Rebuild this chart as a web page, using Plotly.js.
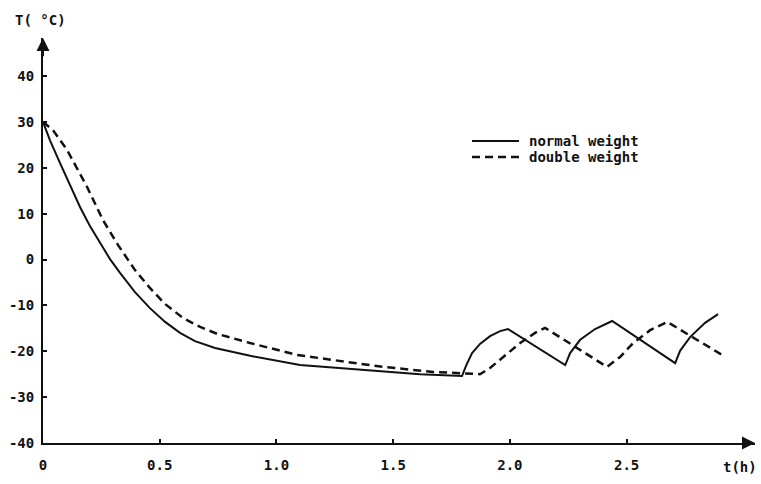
<!DOCTYPE html>
<html><head><meta charset="utf-8">
<script src="https://cdn.plot.ly/plotly-3.0.1.min.js"></script>
<style>html,body{margin:0;padding:0;background:#fff}#chart{width:761px;height:484px}</style>
</head><body><div id="chart"></div>
<script>
// time in hours, temperature in °C
const normalTime = [0, 0.030, 0.073, 0.116, 0.159, 0.201, 0.244, 0.287, 0.330, 0.394, 0.458, 0.523, 0.587, 0.651, 0.737, 0.887, 1.101, 1.388, 1.615, 1.795,
  1.812, 1.838, 1.872, 1.915, 1.958, 1.992, 2.237, 2.258, 2.301, 2.365, 2.438, 2.708, 2.729, 2.772, 2.836, 2.892];
const normalTemp = [30, 26.0, 21.0, 16.0, 11.4, 7.3, 3.6, 0.1, -2.9, -7.1, -10.6, -13.6, -16.0, -17.8, -19.3, -21.0, -23.0, -24.1, -25.0, -25.4,
  -23.2, -20.4, -18.4, -16.7, -15.6, -15.15, -23.0, -20.4, -17.5, -15.15, -13.4, -22.6, -19.9, -16.9, -13.8, -11.9];
const doubleTime = [0, 0.043, 0.103, 0.189, 0.257, 0.321, 0.394, 0.458, 0.523, 0.600, 0.673, 0.746, 0.887, 1.088, 1.242, 1.457, 1.671, 1.872,
  1.915, 1.971, 2.044, 2.108, 2.151, 2.416, 2.472, 2.528, 2.601, 2.674, 2.909];
const doubleTemp = [30, 28.2, 23.9, 15.8, 8.6, 3.2, -2.3, -6.2, -9.7, -12.75, -14.7, -16.2, -18.2, -20.8, -21.9, -23.4, -24.5, -25.0,
  -23.65, -21.25, -18.2, -16.0, -14.9, -23.4, -21.25, -18.2, -15.4, -13.6, -20.8];
const seriesNames = ['normal weight', 'double weight'];
const xTickVals = [0, 0.5, 1.0, 1.5, 2.0, 2.5, 3.0];
const xTickText = ['0', '0.5', '1.0', '1.5', '2.0', '2.5', ''];
const yTickVals = [-40, -30, -20, -10, 0, 10, 20, 30, 40];
const yTickText = ['-40', '-30', '-20', '-10', '0', '10', '20', '30', '40'];

const FONT = {family: 'DejaVu Sans Mono', size: 14, color: '#111', weight: 'bold'};

const traces = [
  {x: normalTime, y: normalTemp, name: seriesNames[0], mode: 'lines', line: {color: '#111', width: 2}},
  {x: doubleTime, y: doubleTemp, name: seriesNames[1], mode: 'lines', line: {color: '#111', width: 2.5, dash: '8px,5px'}}
];

const W = 712, H = 405, L = 43, T = 38;
const px = v => (v - L) / W;
const py = v => (T + H - v) / H;

const layout = {
  width: 761, height: 484,
  margin: {l: L, r: 761 - L - W, t: T, b: 484 - T - H},
  paper_bgcolor: '#fff', plot_bgcolor: '#fff',
  showlegend: false,
  font: FONT,
  xaxis: {range: [0, 3.05], showline: true, linecolor: '#111', linewidth: 2, showgrid: false, zeroline: false,
    ticks: 'inside', ticklen: 4, tickwidth: 2, tickcolor: '#111', tickvals: xTickVals, ticktext: xTickText,
    tickfont: FONT, ticklabelstandoff: 8},
  yaxis: {range: [-40, 48.3], showline: true, linecolor: '#111', linewidth: 2, showgrid: false, zeroline: false,
    ticks: 'inside', ticklen: 4, tickwidth: 2, tickcolor: '#111', tickvals: yTickVals, ticktext: yTickText,
    tickfont: FONT, ticklabelstandoff: 4},
  shapes: [
    {type: 'line', xref: 'paper', yref: 'paper', x0: px(472), x1: px(519), y0: py(141), y1: py(141), line: {color: '#111', width: 2}},
    {type: 'line', xref: 'paper', yref: 'paper', x0: px(472), x1: px(519), y0: py(157), y1: py(157), line: {color: '#111', width: 2.5, dash: '8px,5px'}}
  ],
  annotations: [
    {xref: 'paper', yref: 'paper', x: px(527), y: py(141), text: seriesNames[0], showarrow: false, xanchor: 'left', yanchor: 'middle', font: FONT},
    {xref: 'paper', yref: 'paper', x: px(527), y: py(157), text: seriesNames[1], showarrow: false, xanchor: 'left', yanchor: 'middle', font: FONT},
    {xref: 'paper', yref: 'paper', x: px(40), y: py(20), text: 'T( °C)', showarrow: false, xanchor: 'center', yanchor: 'middle', font: FONT},
    {xref: 'paper', yref: 'paper', x: px(740), y: py(467), text: 't(h)', showarrow: false, xanchor: 'center', yanchor: 'middle', font: FONT},
    {xref: 'x', yref: 'y', axref: 'x', ayref: 'y', x: 0, y: 48.3, ax: 0, ay: 44, text: '', showarrow: true, arrowhead: 2, arrowsize: 1.3, arrowwidth: 2, arrowcolor: '#111'},
    {xref: 'x', yref: 'y', axref: 'x', ayref: 'y', x: 3.05, y: -40, ax: 2.99, ay: -40, text: '', showarrow: true, arrowhead: 2, arrowsize: 1.3, arrowwidth: 2, arrowcolor: '#111'}
  ]
};

Plotly.newPlot('chart', traces, layout, {displayModeBar: false, staticPlot: true});
</script>
</body></html>
